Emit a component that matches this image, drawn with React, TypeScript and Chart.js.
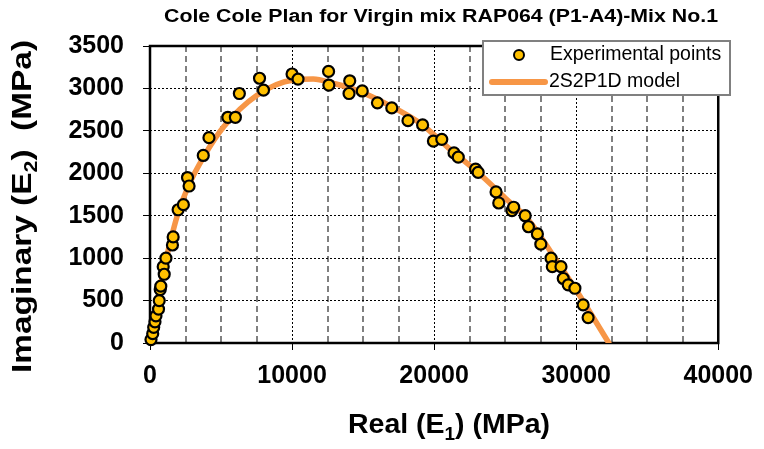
import React, { useEffect, useRef } from 'react';
import { Chart, registerables } from 'chart.js';

Chart.register(...registerables);

// ---------- data ----------
const expReal = [
  70, 190, 260, 350, 420, 600, 650, 720, 760, 930, 1000, 1120, 1580, 1630, 1980, 2350, 2640, 2750,
  3750, 4150, 5480, 6010, 6290, 7710, 7990, 10000, 10420, 12570, 12590, 14060, 14010, 14940, 16010,
  17020, 18160, 19190, 19950, 20540, 21400, 21700, 22920, 23100, 24360, 24550, 25480, 25600, 26410,
  26640, 27270, 27510, 28230, 28320, 28930, 29090, 29440, 29910, 30490, 30840,
];
const expImag = [
  40, 110, 185, 250, 320, 400, 500, 630, 670, 900, 810, 1000, 1155, 1250, 1570, 1630, 1950, 1850,
  2210, 2420, 2660, 2660, 2940, 3120, 2980, 3170, 3110, 3200, 3040, 3090, 2940, 2970, 2830,
  2770, 2620, 2570, 2380, 2400, 2240, 2190, 2050, 2010, 1780, 1650, 1560, 1600, 1500,
  1370, 1285, 1165, 1000, 900, 900, 760, 685, 645, 450, 300,
];
const modelReal = [
  0, 300, 700, 1120, 1700, 1940, 2700, 3800, 5200, 7530, 10090, 11490, 12890, 14520, 16850,
  19180, 21000, 23150, 25000, 26640, 28500, 30140, 31200, 32300,
];
const modelImag = [
  0, 300, 650, 980, 1370, 1510, 1850, 2200, 2550, 2920, 3100, 3110, 3060, 2980, 2800,
  2570, 2300, 2000, 1710, 1450, 1000, 585, 300, 0,
];
const xMin = 0;
const xMax = 40000;
const xStep = 2500;
const xLabelEvery = 10000;
const yMin = 0;
const yMax = 3500;
const yStep = 500;

const chartTitle = 'Cole Cole Plan for Virgin mix RAP064 (P1-A4)-Mix No.1';
const xTitleParts = [
  { t: 'Real (E' },
  { t: '1', sub: true },
  { t: ') (MPa)' },
];
const yTitleParts = [
  { t: 'Imaginary (E' },
  { t: '2', sub: true },
  { t: ')  (MPa)' },
];
const legendLabels = ['Experimental points', '2S2P1D model'];

const FONT = '"Liberation Sans", Arial, Helvetica, sans-serif';
const POINT_FILL = '#FFC000';
const LINE_COLOR = '#F79646';

type Part = { t: string; sub?: boolean };

function drawRich(
  ctx: CanvasRenderingContext2D,
  parts: Part[],
  cx: number,
  cy: number,
  size: number,
  targetWidth: number
) {
  const subSize = Math.round(size * 0.65);
  const fontFor = (p: Part) => `bold ${p.sub ? subSize : size}px ${FONT}`;
  let total = 0;
  const widths = parts.map((p) => {
    ctx.font = fontFor(p);
    const w = ctx.measureText(p.t).width;
    total += w;
    return w;
  });
  const sx = targetWidth / total;
  ctx.save();
  ctx.translate(cx, cy);
  ctx.scale(sx, 1);
  let x = -total / 2;
  ctx.textAlign = 'left';
  ctx.textBaseline = 'middle';
  ctx.fillStyle = '#000';
  parts.forEach((p, i) => {
    ctx.font = fontFor(p);
    ctx.fillText(p.t, x, p.sub ? size * 0.32 : 0);
    x += widths[i];
  });
  ctx.restore();
}

const decorPlugin = {
  id: 'decor',
  beforeDatasetsDraw(chart: any) {
    const { ctx, chartArea: a } = chart;
    ctx.save();
    ctx.strokeStyle = '#000';
    ctx.lineWidth = 2.5;
    ctx.strokeRect(a.left, a.top, a.right - a.left, a.bottom - a.top);
    ctx.restore();
  },
  afterDraw(chart: any) {
    const { ctx } = chart;
    ctx.save();
    // title
    drawRich(ctx, [{ t: chartTitle }], 441, 17, 18, 554);
    // x title
    drawRich(ctx, xTitleParts, 449, 426, 27, 202);
    // y title
    ctx.save();
    ctx.translate(23, 206.5);
    ctx.rotate(-Math.PI / 2);
    drawRich(ctx, yTitleParts, 0, 0, 28, 333);
    ctx.restore();
    // legend
    const bx = 483, by = 41, bw = 247, bh = 54;
    ctx.fillStyle = '#fff';
    ctx.fillRect(bx, by, bw, bh);
    ctx.strokeStyle = '#808080';
    ctx.lineWidth = 2;
    ctx.strokeRect(bx, by, bw, bh);
    ctx.beginPath();
    ctx.arc(519, 55, 5, 0, Math.PI * 2);
    ctx.fillStyle = POINT_FILL;
    ctx.fill();
    ctx.lineWidth = 2;
    ctx.strokeStyle = '#000';
    ctx.stroke();
    ctx.beginPath();
    ctx.moveTo(492, 82);
    ctx.lineTo(545, 82);
    ctx.lineWidth = 6;
    ctx.lineCap = 'round';
    ctx.strokeStyle = LINE_COLOR;
    ctx.stroke();
    ctx.font = `19.5px ${FONT}`;
    ctx.fillStyle = '#000';
    ctx.textAlign = 'left';
    ctx.textBaseline = 'middle';
    ctx.fillText(legendLabels[0], 550, 55);
    ctx.fillText(legendLabels[1], 549, 82);
    ctx.restore();
  },
};

const isMajor = (ctx: any) => ctx.tick && Math.abs(ctx.tick.value % xLabelEvery) < 1e-6;

export default function App() {
  const ref = useRef<HTMLCanvasElement | null>(null);
  useEffect(() => {
    if (!ref.current) return;
    const chart = new Chart(ref.current, {
      type: 'scatter',
      data: {
        datasets: [
          {
            label: legendLabels[0],
            data: expReal.map((x, i) => ({ x, y: expImag[i] })),
            backgroundColor: POINT_FILL,
            borderColor: '#000',
            borderWidth: 2.2,
            pointRadius: 5.5,
            showLine: false,
            clip: false as any,
            order: 0,
          },
          {
            label: legendLabels[1],
            data: modelReal.map((x, i) => ({ x, y: modelImag[i] })),
            showLine: true,
            borderColor: LINE_COLOR,
            borderWidth: 5.5,
            pointRadius: 0,
            cubicInterpolationMode: 'monotone',
            borderCapStyle: 'round',
            borderJoinStyle: 'round',
            order: 1,
          } as any,
        ],
      },
      options: {
        responsive: false,
        animation: false,
        layout: { padding: { top: 46, right: 41, left: 0, bottom: 0 } },
        plugins: { legend: { display: false }, title: { display: false }, tooltip: { enabled: false } },
        scales: {
          x: {
            type: 'linear',
            min: xMin,
            max: xMax,
            afterFit: (s: any) => { s.height = 106; },
            ticks: {
              stepSize: xStep,
              autoSkip: false,
              maxRotation: 0,
              padding: 11,
              color: '#000',
              font: { family: FONT, size: 25, weight: 'bold' },
              callback: (v: any) => (Math.abs(v % xLabelEvery) < 1e-6 ? String(v) : ''),
            },
            grid: {
              color: (c: any) => (isMajor(c) ? '#000' : '#808080'),
              lineWidth: (c: any) => (isMajor(c) ? 1 : 2),
              tickColor: (c: any) => (isMajor(c) ? '#000' : 'rgba(0,0,0,0)'),
              tickLength: 7,
              tickWidth: 1,
              drawTicks: true,
            },
            border: { display: false, dash: (c: any) => (isMajor(c) ? [2, 2] : [6, 4]) } as any,
          },
          y: {
            type: 'linear',
            min: yMin,
            max: yMax,
            afterFit: (s: any) => { s.width = 150; },
            ticks: {
              stepSize: yStep,
              padding: 19,
              color: '#000',
              font: { family: FONT, size: 25, weight: 'bold' },
              callback: (v: any) => String(v),
            },
            grid: {
              color: '#000',
              lineWidth: 1,
              tickColor: '#000',
              tickLength: 7,
              drawTicks: true,
            },
            border: { display: false, dash: [2, 2] },
          },
        },
      } as any,
      plugins: [decorPlugin],
    });
    return () => chart.destroy();
  }, []);
  return (
    <div style={{ position: 'absolute', left: 0, top: 0, width: 764, height: 449, background: '#fff' }}>
      <canvas ref={ref} width={764} height={449} style={{ display: 'block' }} />
    </div>
  );
}
